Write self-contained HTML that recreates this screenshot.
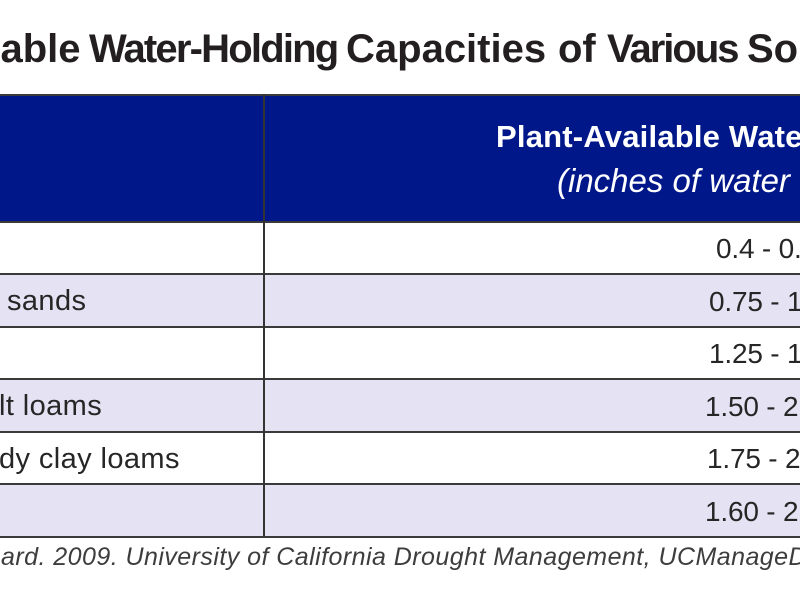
<!DOCTYPE html>
<html>
<head>
<meta charset="utf-8">
<style>
  html, body { margin:0; padding:0; }
  body { width:800px; height:600px; position:relative; overflow:hidden; background:#ffffff; }
  #wrap { position:absolute; left:0; top:0; width:800px; height:600px; overflow:hidden; }
  .abs { position:absolute; white-space:nowrap; }
  .t { font-family:"Liberation Sans", Arial, sans-serif; }
  .bg { position:absolute; left:0; width:800px; }
  .hl { position:absolute; left:0; width:800px; height:2px; background:#3a3a3a; }
  .cell { font-size:29px; line-height:29px; color:#262626; }
  .val { font-size:28px; line-height:28px; color:#262626; letter-spacing:-0.2px; }
  .ttl { font-size:40px; line-height:40px; font-weight:bold; color:#231f20; top:29px; }
</style>
</head>
<body>
<div id="wrap">
  <!-- Title -->
  <div class="abs t ttl" style="left:0.5px;">able</div>
  <div class="abs t ttl" style="left:89px; letter-spacing:-1.8px;">Water-Holding</div>
  <div class="abs t ttl" style="left:346px;">Capacities</div>
  <div class="abs t ttl" style="left:558px;">of</div>
  <div class="abs t ttl" style="left:607px; letter-spacing:-2px;">Various</div>
  <div class="abs t ttl" style="left:747px;">Soils</div>

  <!-- Header background -->
  <div class="bg" style="top:95px; height:127px; background:#00178a;"></div>

  <!-- Row backgrounds -->
  <div class="bg" style="top:275px; height:51px; background:#e5e3f3;"></div>
  <div class="bg" style="top:380px; height:51px; background:#e5e3f3;"></div>
  <div class="bg" style="top:485px; height:51px; background:#e5e3f3;"></div>

  <!-- Horizontal lines -->
  <div class="hl" style="top:93.5px;"></div>
  <div class="hl" style="top:220.5px;"></div>
  <div class="hl" style="top:273px;"></div>
  <div class="hl" style="top:325.6px;"></div>
  <div class="hl" style="top:378.2px;"></div>
  <div class="hl" style="top:430.7px;"></div>
  <div class="hl" style="top:483.3px;"></div>
  <div class="hl" style="top:535.9px;"></div>

  <!-- Vertical line -->
  <div style="position:absolute; left:262.5px; top:94px; width:2px; height:443px; background:#333333;"></div>

  <!-- Header text -->
  <div class="abs t" style="left:496px; top:120.5px; font-size:31px; line-height:31px; font-weight:bold; letter-spacing:0.2px; color:#ffffff;">Plant-Available Water</div>
  <div class="abs t" style="left:557px; top:164px; font-size:33px; line-height:33px; font-style:italic; color:#ffffff;">(inches of water</div>

  <!-- Column 1 labels -->
  <div class="abs t cell" style="left:7px; top:287px; letter-spacing:0.4px;">sands</div>
  <div class="abs t cell" style="left:-1px; top:392px; letter-spacing:0.4px;">lt loams</div>
  <div class="abs t cell" style="left:-1px; top:444.5px; letter-spacing:0.4px;">dy clay loams</div>

  <!-- Column 2 values -->
  <div class="abs t val" style="left:716px; top:234.5px;">0.4 - 0.75</div>
  <div class="abs t val" style="left:709px; top:287.5px;">0.75 - 1.00</div>
  <div class="abs t val" style="left:709px; top:340px;">1.25 - 1.75</div>
  <div class="abs t val" style="left:705px; top:392.5px;">1.50 - 2.30</div>
  <div class="abs t val" style="left:707px; top:445px;">1.75 - 2.50</div>
  <div class="abs t val" style="left:705px; top:497.5px;">1.60 - 2.50</div>

  <!-- Footnote -->
  <div class="abs t" style="left:1px; top:544.5px; font-size:25px; line-height:25px; font-style:italic; letter-spacing:0.45px; color:#3d3d3d;">ard. 2009. University of California Drought Management, UCManageD</div>
</div>
</body>
</html>
